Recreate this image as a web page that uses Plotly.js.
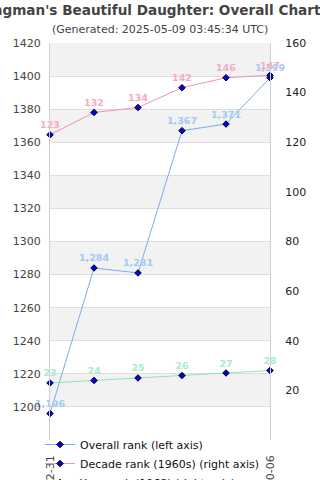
<!DOCTYPE html>
<html>
<head>
<meta charset="utf-8">
<script src="https://cdn.plot.ly/plotly-3.0.1.min.js"></script>
<style>html,body{margin:0;padding:0;background:#fff;}#chart{width:320px;height:480px;}</style>
</head>
<body>
<div id="chart"></div>
<script>
var dates = ["2019-12-31", "2020-12-31", "2021-12-31", "2022-12-31", "2023-12-31", "2024-10-06"];
var overallRank = [1196, 1284, 1281, 1367, 1371, 1399];
var decadeRank = [123, 132, 134, 142, 146, 147];
var yearRank = [23, 24, 25, 26, 27, 28];
var leftTicks = [1200, 1220, 1240, 1260, 1280, 1300, 1320, 1340, 1360, 1380, 1400, 1420];
var rightTicks = [20, 40, 60, 80, 100, 120, 140, 160];
var seriesNames = ["Overall rank (left axis)", "Decade rank (1960s) (right axis)", "Year rank (1968) (right axis)"];

var font = "DejaVu Sans, Verdana, sans-serif";
function fmt(v){ return v.toLocaleString("en-US"); }

function mk(name, y, axis, lineColor, textColor){
  return {
    x: dates, y: y, yaxis: axis, name: name,
    type: "scatter", mode: "lines+markers+text",
    line: {color: lineColor, width: 1},
    marker: {symbol: "diamond", size: 5, color: "#0000ee", line: {color: "#000", width: 1}},
    text: y.map(fmt), textposition: "top center",
    textfont: {family: font, size: 9.5, color: textColor, weight: "bold"},
    cliponaxis: false
  };
}

var traces = [
  mk(seriesNames[0], overallRank, "y", "#78aeee", "#a4c8f2"),
  mk(seriesNames[1], decadeRank, "y2", "#f490bc", "#f6aacb"),
  mk(seriesNames[2], yearRank, "y2", "#90e4b8", "#a8ecca")
];

var shapes = [];
var bandEdges = [1180].concat(leftTicks);
for (var i = bandEdges.length - 1, k = 0; i > 0; i--, k++) {
  if (k % 2 === 0) {
    shapes.push({type: "rect", xref: "paper", yref: "y", x0: 0, x1: 1,
      y0: bandEdges[i - 1], y1: bandEdges[i], fillcolor: "#f2f2f2", line: {width: 0}, layer: "below"});
  }
}

var dom = [40 / 437, 1];

var layout = {
  width: 320, height: 480,
  margin: {l: 50, r: 50, t: 43, b: 0, pad: 0, autoexpand: false},
  paper_bgcolor: "#fff", plot_bgcolor: "#fff",
  showlegend: true,
  title: {text: "The Hangman's Beautiful Daughter: Overall Chart History",
    font: {family: font, size: 13.6, color: "#444", weight: "bold"},
    x: 0.5, xanchor: "center", y: 0.979, yref: "container", yanchor: "middle"},
  annotations: [{text: "(Generated: 2025-05-09 03:45:34 UTC)", xref: "paper", yref: "paper",
    x: 0.5, y: 1 + 14 / 437, xanchor: "center", yanchor: "middle", showarrow: false,
    font: {family: font, size: 11, color: "#444"}}],
  shapes: shapes,
  xaxis: {type: "category", range: [0, dates.length - 1], tickvals: [dates[0], dates[dates.length - 1]],
    tickangle: -90, tickfont: {family: font, size: 11, color: "#444"}, showgrid: false,
    zeroline: false, showline: false, ticks: "", automargin: false, ticklabelstandoff: 12},
  yaxis: {domain: dom, range: [1180, 1420], tickvals: leftTicks, tickfont: {family: font, size: 11, color: "#444"},
    gridcolor: "#dddddd", showline: true, linecolor: "#d0d0d0", zeroline: false, ticks: "",
    automargin: false, ticklabelstandoff: 6},
  yaxis2: {domain: dom, range: [0, 160], tickvals: rightTicks, overlaying: "y", side: "right",
    tickfont: {family: font, size: 11, color: "#222"}, showgrid: false, showline: true,
    linecolor: "#d0d0d0", zeroline: false, ticks: "", automargin: false, ticklabelstandoff: 12},
  legend: {x: -10 / 220, xanchor: "left", y: 50 / 437, yanchor: "top",
    orientation: "v", bgcolor: "rgba(255,255,255,0)", font: {family: font, size: 11, color: "#111"},
    tracegroupgap: 0, itemwidth: 30}
};

Plotly.newPlot("chart", traces, layout, {displayModeBar: false, staticPlot: true});
</script>
</body>
</html>
